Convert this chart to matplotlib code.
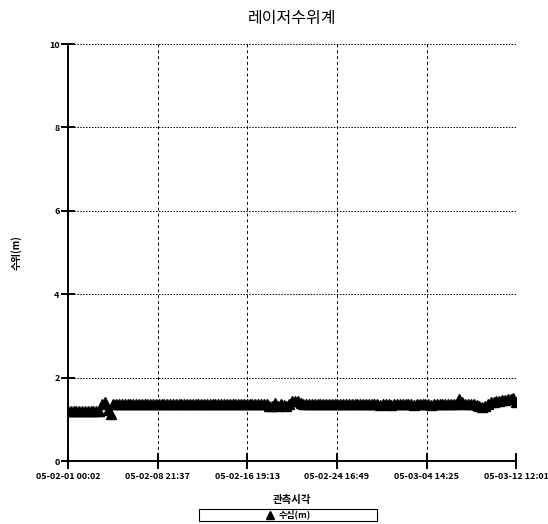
import numpy as np
import pandas as pd
import matplotlib
matplotlib.use("Agg")
import matplotlib.pyplot as plt
from matplotlib.patches import Rectangle

plt.rcParams['font.family'] = ['Noto Sans CJK KR', 'DejaVu Sans']

# 데이터 (6시간 간격 관측값, 단위 m)
start = pd.Timestamp('2005-02-01 00:02')
end = pd.Timestamp('2005-03-12 12:01')
water_level = [
    1.20, 1.21, 1.20, 1.20, 1.21, 1.20, 1.21, 1.20, 1.20, 1.21,
    1.20, 1.21, 1.38, 1.41, 1.22, 1.12, 1.36, 1.37, 1.38, 1.37,
    1.37, 1.36, 1.37, 1.38, 1.37, 1.37, 1.36, 1.37, 1.38, 1.37,
    1.36, 1.37, 1.37, 1.38, 1.37, 1.36, 1.37, 1.37, 1.38, 1.37,
    1.37, 1.36, 1.37, 1.38, 1.37, 1.37, 1.36, 1.37, 1.37, 1.38,
    1.37, 1.36, 1.37, 1.37, 1.38, 1.37, 1.36, 1.37, 1.38, 1.37,
    1.37, 1.36, 1.37, 1.38, 1.37, 1.37, 1.36, 1.37, 1.37, 1.36,
    1.36, 1.32, 1.33, 1.40, 1.32, 1.38, 1.34, 1.33, 1.38, 1.44,
    1.45, 1.43, 1.40, 1.37, 1.38, 1.37, 1.36, 1.37, 1.38, 1.37,
    1.37, 1.36, 1.37, 1.38, 1.37, 1.37, 1.36, 1.37, 1.38, 1.37,
    1.36, 1.37, 1.37, 1.38, 1.37, 1.36, 1.37, 1.37, 1.38, 1.37,
    1.34, 1.37, 1.36, 1.37, 1.34, 1.37, 1.38, 1.36, 1.37, 1.37,
    1.36, 1.37, 1.34, 1.37, 1.38, 1.37, 1.36, 1.37, 1.34, 1.37,
    1.37, 1.36, 1.37, 1.38, 1.37, 1.36, 1.37, 1.38, 1.50, 1.42,
    1.37, 1.37, 1.36, 1.37, 1.34, 1.31, 1.30, 1.33, 1.38, 1.41,
    1.42, 1.44, 1.45, 1.46, 1.47, 1.48, 1.50, 1.51, 1.42,
]
times = pd.date_range(start, periods=len(water_level), freq='6h')

x_tick_labels = ['05-02-01 00:02', '05-02-08 21:37', '05-02-16 19:13',
                 '05-02-24 16:49', '05-03-04 14:25', '05-03-12 12:01']
y_ticks = [0, 2, 4, 6, 8, 10]

fig = plt.figure(figsize=(5.48, 5.24), dpi=100)
ax = fig.add_axes([0.124, 0.120, 0.818, 0.796])

ax.plot(times, water_level, linestyle='none', marker='^', color='black',
        markersize=7.5, label='수심(m)')

# 축 설정
x_ticks = pd.date_range(start, end, periods=6)
ax.set_xlim(start, end)
ax.set_ylim(0, 10)
ax.set_xticks(x_ticks)
ax.set_xticklabels(x_tick_labels)
ax.set_yticks(y_ticks)

for s in ['top', 'right']:
    ax.spines[s].set_visible(False)
for s in ['left', 'bottom']:
    ax.spines[s].set_linewidth(1.4)

ax.tick_params(axis='x', direction='inout', length=12, width=1.4,
               labelsize=6.5, pad=2)
ax.tick_params(axis='y', direction='inout', length=10, width=1.4,
               labelsize=6.5, pad=1)
for lab in ax.get_xticklabels() + ax.get_yticklabels():
    lab.set_fontweight('bold')

# 격자
ax.xaxis.grid(True, linestyle=(0, (3, 3)), color='black', linewidth=0.7)
ax.yaxis.grid(True, linestyle=(0, (1.5, 1.5)), color='black', linewidth=0.7)

ax.set_title('레이저수위계', fontsize=11.5, pad=15)
ax.set_ylabel('수위(m)', fontsize=7, fontweight='bold', labelpad=20)
ax.set_xlabel('관측시각', fontsize=7.5, fontweight='bold', labelpad=10)

# 범례
fig.patches.append(Rectangle((0.363, 0.006), 0.325, 0.023, transform=fig.transFigure,
                             fill=False, edgecolor='black', linewidth=0.8))
fig.legend(loc='center', bbox_to_anchor=(0.5255, 0.0175), frameon=False,
           handlelength=1.0, handletextpad=0.5, borderpad=0,
           prop={'weight': 'bold', 'size': 6.5}, markerscale=0.8)

fig.savefig('out.png', dpi=100)
